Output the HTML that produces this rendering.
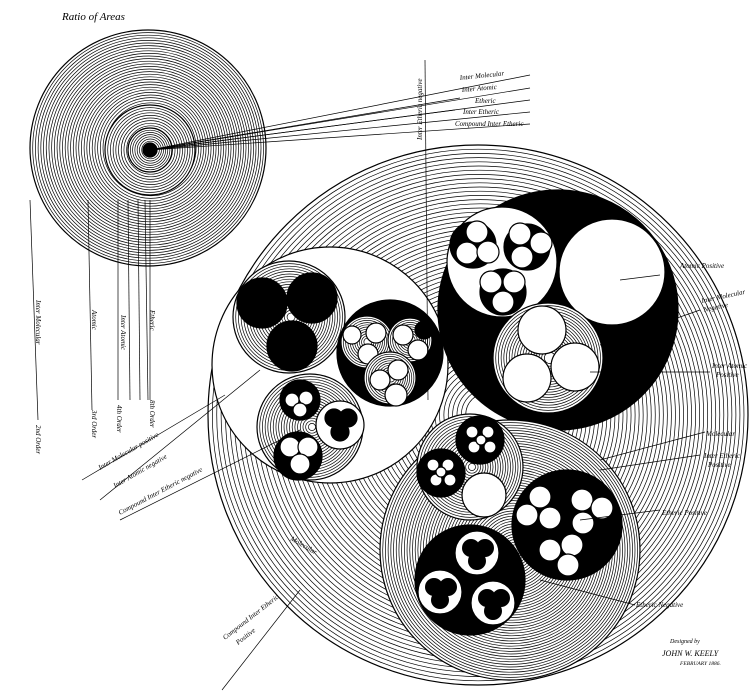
<!DOCTYPE html>
<html><head><meta charset="utf-8"><style>
html,body{margin:0;padding:0;background:#fff;}
svg{display:block;}
text{font-family:"Liberation Serif",serif;font-style:italic;fill:#000;}
</style></head><body>
<svg id="fig" width="750" height="692" viewBox="0 0 750 692" xmlns="http://www.w3.org/2000/svg">
<g id="layer"></g>
<text x="62" y="20" font-size="11">Ratio of Areas</text>
<g font-size="7">
<text x="460" y="80" transform="rotate(-6 460 80)">Inter Molecular</text>
<text x="462" y="92" transform="rotate(-5 462 92)">Inter Atomic</text>
<text x="475" y="103">Etheric</text>
<text x="463" y="114">Inter Etheric</text>
<text x="455" y="126">Compound Inter Etheric</text>
<text x="0" y="0" transform="translate(422,140) rotate(-90)">Inter Etheric negative</text>
</g>
<g font-size="7">
<text transform="translate(36,300) rotate(90)">Inter Molecular</text>
<text transform="translate(36,425) rotate(90)">2nd Order</text>
<text transform="translate(92,310) rotate(90)">Atomic</text>
<text transform="translate(92,410) rotate(90)">3rd Order</text>
<text transform="translate(121,315) rotate(90)">Inter Atomic</text>
<text transform="translate(117,405) rotate(90)">4th Order</text>
<text transform="translate(150,310) rotate(90)">Etheric</text>
<text transform="translate(150,400) rotate(90)">8th Order</text>
<text x="100" y="470" transform="rotate(-30 100 470)">Inter Molecular positive</text>
<text x="115" y="488" transform="rotate(-30 115 488)">Inter Atomic negative</text>
<text x="120" y="515" transform="rotate(-28 120 515)">Compound Inter Etheric negative</text>
<text x="225" y="640" transform="rotate(-38 225 640)">Compound Inter Etheric</text>
<text x="238" y="645" transform="rotate(-38 238 645)">Positive</text>
<text x="290" y="540" transform="rotate(30 290 540)">Molecular</text>
</g>
<g font-size="7">
<text x="680" y="268">Atomic Positive</text>
<text x="702" y="303" transform="rotate(-12 702 303)">Inter Molecular</text>
<text x="704" y="312" transform="rotate(-12 704 312)">Negative</text>
<text x="712" y="368">Inter Atomic</text>
<text x="716" y="377">Positive</text>
<text x="706" y="436">Molecular</text>
<text x="704" y="458">Inter Etheric</text>
<text x="708" y="467">Positive</text>
<text x="662" y="515">Etheric Positive</text>
<text x="636" y="607">Etheric Negative</text>
</g>
<g>
<text x="670" y="643" font-size="6">Designed by</text>
<text x="662" y="656" font-size="8" font-style="normal">JOHN W. KEELY</text>
<text x="680" y="665" font-size="5.5">FEBRUARY 1886.</text>
</g>
</svg>
<script>
// circles drawn in order; style: h=hatched, b=black, w=white
const circleX=[148,150,150,150, 478,
 330, 289,262,312,292, 390,367,352,376,368, 410,403,418, 424, 390,380,398,396,
 310, 300,292,306,300, 340,334,348,340, 298,290,308,300,
 558, 502,473,527,503, 477,467,488, 520,541,522, 491,514,503, 612,
 548,542,575,527,
 510, 470,441,480,484,
 433,448,436,450,441, 472,488,474,490,481,
 567,540,527,550,582,602,583,572,550,568,
 470,477,440,493];
const circleY=[148,150,150,150, 415,
 365, 317,303,298,346, 353,342,335,333,354, 340,335,350, 330, 378,380,370,395,
 427, 400,400,398,410, 425,418,418,432, 456,447,447,464,
 310, 262,245,247,292, 232,253,252, 234,243,257, 282,282,302, 272,
 358,330,367,378,
 550, 467,473,440,495,
 465,465,480,480,472, 432,432,447,447,440,
 525,497,515,518,500,508,523,545,550,565,
 580,553,592,603];
const circleR=[118,45,22,7, 270,
 118, 56,25,25,25, 53,26,9,10,10, 22,10,10, 9, 26,10,10,11,
 53, 20,7,7,7, 24,9,9,9, 24,10,10,10,
 120, 55,23,23,23, 11,11,11, 11,11,11, 11,11,11, 53,
 55,24,24,24,
 130, 53,24,24,22,
 6,6,6,6,5, 6,6,6,6,5,
 55,11,11,11,11,11,11,11,11,11,
 55,22,22,22];
const circleS=['h','h','h','b','h',
 'w','h','b','b','b','b','h','w','w','w','h','w','w','b','h','w','w','w',
 'h','b','w','w','w','w','b','b','b','b','w','w','w',
 'b','w','b','b','b','w','w','w','w','w','w','w','w','w','w',
 'h','w','w','w',
 'h','h','b','b','w',
 'w','w','w','w','w','w','w','w','w','w',
 'b','w','w','w','w','w','w','w','w','w',
 'b','w','w','w'];
// small black lobes inside the white circles of the lower black circle
const lobeX=[471,485,477, 434,448,440, 487,501,493];
const lobeY=[548,548,561, 587,587,600, 598,598,611];
const lobeR=[9,9,9,9,9,9,9,9,9];
const NS='http://www.w3.org/2000/svg';
const L=document.getElementById('layer');
function mk(tag,a){const e=document.createElementNS(NS,tag);for(const k in a)e.setAttribute(k,a[k]);L.appendChild(e);return e;}
for(let i=0;i<circleX.length;i++){
  const s=circleS[i];
  const e=mk('circle',{cx:circleX[i],cy:circleY[i],r:circleR[i],fill:s==='b'?'#000':'#fff',stroke:'#000','stroke-width':1.2});
  
  
  if(s==='h'){
    const step=i===4?4.2:(circleR[i]>40?2.6:2.2);
    for(let r=circleR[i]-step;r>(i===4?20:3);r-=step){
      mk('circle',{cx:circleX[i]+(circleR[i]-r)*0.04,cy:circleY[i],r:r,fill:'none',stroke:'#000','stroke-width':0.7});
    }
  }
}
for(let i=0;i<lobeX.length;i++){
  const e=mk('circle',{cx:lobeX[i],cy:lobeY[i],r:lobeR[i],fill:'#000'});
  
  
}
// leader lines
const lines=[[150,150,530,75],[150,150,530,88],[150,150,530,100],[150,150,530,112],[150,150,530,124],[150,150,460,98],[150,150,455,110],
[30,200,38,420],[88,200,92,410],[118,200,118,400],[128,200,130,400],[138,200,140,400],[145,200,148,400],[150,200,150,400],
[82,480,225,395],[100,500,260,370],[120,520,300,430],[222,690,300,590],
[660,275,620,280],[700,310,600,345],[710,372,590,372],[705,432,600,460],[700,455,600,470],[660,510,580,520],[635,605,540,580],[425,60,428,400]];
for(const l of lines){
  const e=mk('line',{x1:l[0],y1:l[1],x2:l[2],y2:l[3],stroke:'#000','stroke-width':0.7});
  
  
}
</script>
</body></html>
